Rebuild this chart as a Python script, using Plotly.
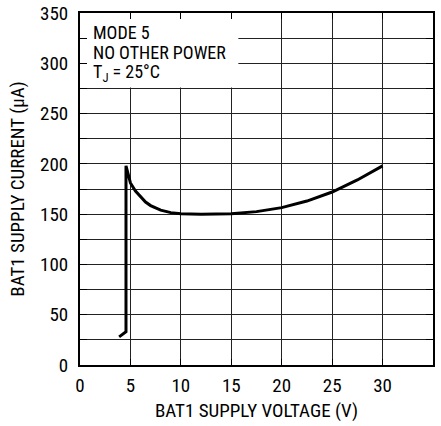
import plotly.graph_objects as go

voltage = [3.88, 4.56, 4.56, 4.7, 5.0, 5.5, 6.0, 6.5, 7.0, 8.0, 9.0, 10.0, 12.0, 15.0, 17.5, 20.0, 22.5, 25.0, 27.5, 30.0]
current = [28, 33, 198, 193, 181, 173, 167, 162, 158.5, 154, 151.5, 150.5, 150, 150.3, 152.5, 156.5, 163, 172, 184, 198]

x_ticks = [0, 5, 10, 15, 20, 25, 30, 35]
x_ticktext = ["0", "5", "10", "15", "20", "25", "30", "35"]
y_ticks = [0, 50, 100, 150, 200, 250, 300, 350]
y_ticktext = ["0", "50", "100", "150", "200", "250", "300", "350"]
y_minor = [25, 75, 125, 175, 225, 275, 325]

notes = ["MODE 5", "NO OTHER POWER", "T<sub>J</sub> = 25°C"]
note_y = [331, 311, 290]

FONT = "Roboto Condensed, Liberation Sans Narrow, Roboto, sans-serif"
FS = 19

fig = go.Figure()
fig.add_trace(go.Scatter(x=voltage, y=current, mode="lines",
                         line=dict(color="black", width=3),
                         showlegend=False, hoverinfo="skip"))

fig.add_shape(type="rect", xref="x", yref="y", x0=0.1, x1=15.7, y0=276, y1=350,
              fillcolor="white", line=dict(width=0), layer="between")

for t, yy in zip(notes, note_y):
    fig.add_annotation(x=1.1, y=yy, xref="x", yref="y", text=t, showarrow=False,
                       xanchor="left", yanchor="middle",
                       font=dict(family=FONT, size=18, color="black"))

fig.update_layout(
    width=441, height=426,
    margin=dict(l=80, r=8, t=13, b=61),
    paper_bgcolor="white", plot_bgcolor="white",
    font=dict(family=FONT, size=FS, color="black"),
)
fig.update_xaxes(range=[0, 35], tickvals=x_ticks, ticktext=x_ticktext,
                 showgrid=True, gridcolor="#222", gridwidth=1,
                 showline=True, linecolor="black", linewidth=2, mirror="ticks",
                 ticks="inside", ticklen=6, tickcolor="black", tickwidth=1,
                 zeroline=False, automargin=False, ticklabelstandoff=2,
                 title=dict(text="BAT1 SUPPLY VOLTAGE (V)", font=dict(family=FONT, size=FS), standoff=8))
fig.update_yaxes(range=[0, 350], tickvals=y_ticks, ticktext=y_ticktext,
                 showgrid=True, gridcolor="#222", gridwidth=1,
                 showline=True, linecolor="black", linewidth=2, mirror="ticks",
                 ticks="inside", ticklen=7, tickcolor="black", tickwidth=1,
                 minor=dict(tickvals=y_minor, ticks="inside", ticklen=7, tickcolor="black",
                            showgrid=True, gridcolor="#222", gridwidth=1),
                 zeroline=False, automargin=False, ticklabelstandoff=6,
                 title=dict(text="BAT1 SUPPLY CURRENT (µA)", font=dict(family=FONT, size=FS), standoff=10))

fig.write_html("out.html", config={"displayModeBar": False},
               post_script="document.body.style.margin='0';")
